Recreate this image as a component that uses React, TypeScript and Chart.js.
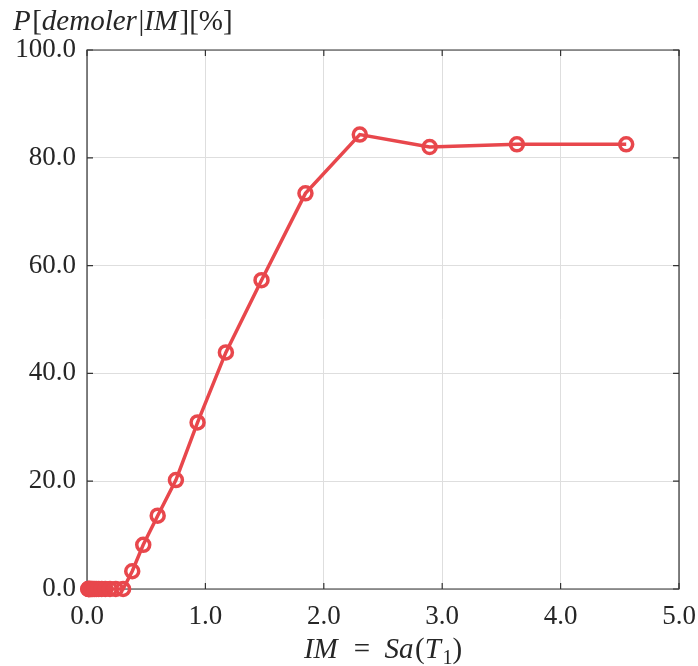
import React, { useEffect, useRef } from "react";
import { Chart, registerables } from "chart.js";

Chart.register(...registerables);

// IM = Sa(T1) values (g)
const imValues = [
  0.010, 0.013, 0.016, 0.020, 0.025, 0.032, 0.040, 0.050, 0.063, 0.079,
  0.099, 0.124, 0.155, 0.194, 0.243, 0.305, 0.382, 0.475, 0.597, 0.751,
  0.934, 1.173, 1.474, 1.845, 2.304, 2.894, 3.631, 4.554,
];
// P[demoler | IM] in %
const probValues = [
  0, 0, 0, 0, 0, 0, 0, 0, 0, 0,
  0, 0, 0, 0, 0, 0, 3.3, 8.2, 13.6, 20.2,
  30.9, 43.9, 57.3, 73.4, 84.3, 82.0, 82.5, 82.5,
];
const xTickValues = [0, 1, 2, 3, 4, 5];
const yTickValues = [0, 20, 40, 60, 80, 100];

const yTitleParts = [
  { t: "P", it: true },
  { t: "[", it: false },
  { t: "demoler", it: true },
  { t: "|", it: false },
  { t: "IM", it: true },
  { t: "][%]", it: false },
];
const xTitleParts = [
  { t: "IM", it: true },
  { t: " = ", it: false },
  { t: "Sa", it: true },
  { t: "(", it: false },
  { t: "T", it: true },
  { t: "1", it: false, sub: true },
  { t: ")", it: false },
];

const LINE_COLOR = "#E8474C";
const TEXT_COLOR = "#262626";
const AXIS_COLOR = "#333333";
const GRID_COLOR = "#dedede";
const FONT_FAMILY = "'Liberation Serif', 'DejaVu Serif', serif";
const TICK_SIZE = 27;
const LABEL_SIZE = 29;

type Part = { t: string; it: boolean; sub?: boolean };

function partFont(p: Part) {
  const size = p.sub ? Math.round(LABEL_SIZE * 0.7) : LABEL_SIZE;
  return `${p.it ? "italic " : ""}${size}px ${FONT_FAMILY}`;
}

function drawRich(
  ctx: CanvasRenderingContext2D,
  parts: Part[],
  x: number,
  y: number,
  align: "left" | "center"
) {
  ctx.save();
  ctx.textAlign = "left";
  ctx.textBaseline = "alphabetic";
  ctx.fillStyle = TEXT_COLOR;
  const widths = parts.map((p) => {
    ctx.font = partFont(p);
    const text = p.t.replace(/ /g, "\u2005\u2005");
    return ctx.measureText(text).width + (p.it ? 1.5 : 0);
  });
  const total = widths.reduce((a, b) => a + b, 0);
  let cx = align === "center" ? x - total / 2 : x;
  parts.forEach((p, i) => {
    ctx.font = partFont(p);
    const text = p.t.replace(/ /g, "\u2005\u2005");
    ctx.fillText(text, cx, p.sub ? y + 6 : y);
    cx += widths[i];
  });
  ctx.restore();
}

const framePlugin = {
  id: "matlabFrame",
  beforeDatasetsDraw(chart: any) {
    const { ctx, chartArea } = chart;
    const { left, right, top, bottom } = chartArea;
    const xs = chart.scales.x;
    const ys = chart.scales.y;
    ctx.save();
    ctx.strokeStyle = AXIS_COLOR;
    ctx.lineWidth = 1.2;
    ctx.beginPath();
    ctx.rect(left, top, right - left, bottom - top);
    ctx.stroke();
    const tl = 6;
    ctx.beginPath();
    xTickValues.forEach((v) => {
      const px = xs.getPixelForValue(v);
      ctx.moveTo(px, bottom);
      ctx.lineTo(px, bottom - tl);
      ctx.moveTo(px, top);
      ctx.lineTo(px, top + tl);
    });
    yTickValues.forEach((v) => {
      const py = ys.getPixelForValue(v);
      ctx.moveTo(left, py);
      ctx.lineTo(left + tl, py);
      ctx.moveTo(right, py);
      ctx.lineTo(right - tl, py);
    });
    ctx.stroke();
    ctx.restore();
  },
  afterDraw(chart: any) {
    const { ctx, chartArea } = chart;
    drawRich(ctx, yTitleParts, 13, 30, "left");
    drawRich(ctx, xTitleParts, (chartArea.left + chartArea.right) / 2, 658, "center");
  },
};

export default function App() {
  const canvasRef = useRef<HTMLCanvasElement | null>(null);

  useEffect(() => {
    document.body.style.margin = "0";
    const canvas = canvasRef.current;
    if (!canvas) return;
    const tickFont = { family: FONT_FAMILY, size: TICK_SIZE };
    const chart = new Chart(canvas, {
      type: "line",
      data: {
        datasets: [
          {
            data: imValues.map((x, i) => ({ x, y: probValues[i] })),
            borderColor: LINE_COLOR,
            borderWidth: 3.5,
            pointRadius: 6.5,
            pointHoverRadius: 6.5,
            pointBorderWidth: 3.5,
            pointBorderColor: LINE_COLOR,
            pointBackgroundColor: "rgba(0,0,0,0)",
            tension: 0,
            fill: false,
            clip: false as any,
          },
        ],
      },
      options: {
        responsive: false,
        animation: false,
        events: [],
        layout: { padding: { top: 50, right: 19, left: 0, bottom: 0 } },
        plugins: {
          legend: { display: false },
          tooltip: { enabled: false },
          title: { display: false },
        },
        scales: {
          x: {
            type: "linear",
            min: 0,
            max: 5,
            afterBuildTicks: (s: any) => {
              s.ticks = xTickValues.map((v) => ({ value: v }));
            },
            ticks: {
              callback: (v: any) => Number(v).toFixed(1),
              font: tickFont,
              color: TEXT_COLOR,
              padding: 12,
              maxRotation: 0,
              autoSkip: false,
            },
            grid: { color: GRID_COLOR, lineWidth: 1, drawTicks: false },
            border: { display: false },
            afterFit: (s: any) => {
              s.height = 77;
              s.paddingLeft = 0;
              s.paddingRight = 0;
            },
          },
          y: {
            type: "linear",
            min: 0,
            max: 100,
            afterBuildTicks: (s: any) => {
              s.ticks = yTickValues.map((v) => ({ value: v }));
            },
            ticks: {
              callback: (v: any) => Number(v).toFixed(1),
              font: tickFont,
              color: TEXT_COLOR,
              padding: 11,
              autoSkip: false,
            },
            grid: { color: GRID_COLOR, lineWidth: 1, drawTicks: false },
            border: { display: false },
            afterFit: (s: any) => {
              s.width = 87;
              s.paddingTop = 0;
              s.paddingBottom = 0;
            },
          },
        },
      } as any,
      plugins: [framePlugin],
    });
    return () => chart.destroy();
  }, []);

  return (
    <div style={{ width: 698, height: 666, background: "#ffffff" }}>
      <canvas ref={canvasRef} width={698} height={666} style={{ display: "block" }} />
    </div>
  );
}
